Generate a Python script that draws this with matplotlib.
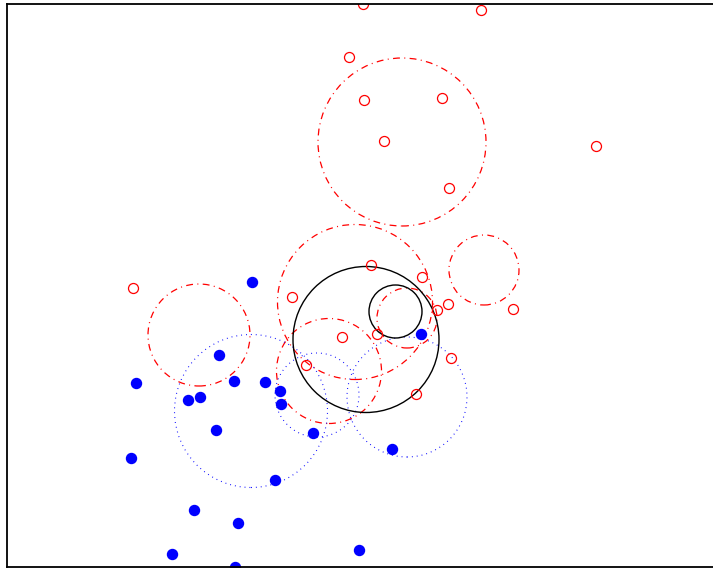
import matplotlib

matplotlib.use("Agg")
import matplotlib.pyplot as plt  # noqa: E402
from matplotlib.patches import Circle  # noqa: E402

# point sets (x right, y up; axes units)
red_x = [356, 474, 342, 357, 435, 377, 589, 442, 364, 415, 126, 285, 441, 430, 506, 370, 335, 444, 299, 409]
red_y = [563, 557, 510, 467, 469, 426, 421, 379, 302, 290, 279, 270, 263, 257, 258, 233, 230, 209, 202, 173]

blue_x = [245, 414, 212, 129, 227, 258, 273, 181, 193, 274, 209, 306, 385, 124, 268, 187, 231, 165, 352, 228]
blue_y = [285, 233, 212, 184, 186, 185, 176, 167, 170, 163, 137, 134, 118, 109, 87, 57, 44, 13, 17, 0]

# circles: centre x, centre y, radius
red_cx = [395, 348, 477, 192, 322, 400]
red_cy = [425, 265, 297, 232, 196, 249]
red_r = [84, 77.5, 35, 51, 52.5, 30]

blue_cx = [244, 310, 400]
blue_cy = [156, 172, 170]
blue_r = [76.5, 42, 60]

black_cx = [359, 388.5]
black_cy = [227.5, 255.5]
black_r = [73, 26.5]

W, H = 713, 571
fig = plt.figure(figsize=(W / 100, H / 100), dpi=100)
ax = fig.add_axes((7 / W, 4 / H, (W - 7) / W, 563 / H))
ax.set_xlim(0, 706)
ax.set_ylim(0, 563)
ax.set_xticks([])
ax.set_yticks([])
for side in ("left", "top", "bottom"):
    ax.spines[side].set_linewidth(1.3)
ax.spines["right"].set_visible(False)

for cx, cy, r in zip(red_cx, red_cy, red_r):
    ax.add_patch(Circle((cx, cy), r, fill=False, ec="red", lw=0.9, ls=(0, (5.5, 3.5, 0.8, 3.5))))
for cx, cy, r in zip(blue_cx, blue_cy, blue_r):
    ax.add_patch(Circle((cx, cy), r, fill=False, ec="blue", lw=0.8, ls=(0, (0.8, 3.6))))
for cx, cy, r in zip(black_cx, black_cy, black_r):
    ax.add_patch(Circle((cx, cy), r, fill=False, ec="black", lw=1.0))

ax.plot(red_x, red_y, "o", ms=7.2, mfc="none", mec="red", mew=0.9, ls="none")
ax.plot(blue_x, blue_y, "o", ms=7.2, mfc="blue", mec="blue", ls="none")

fig.savefig("out.png", dpi=100)
